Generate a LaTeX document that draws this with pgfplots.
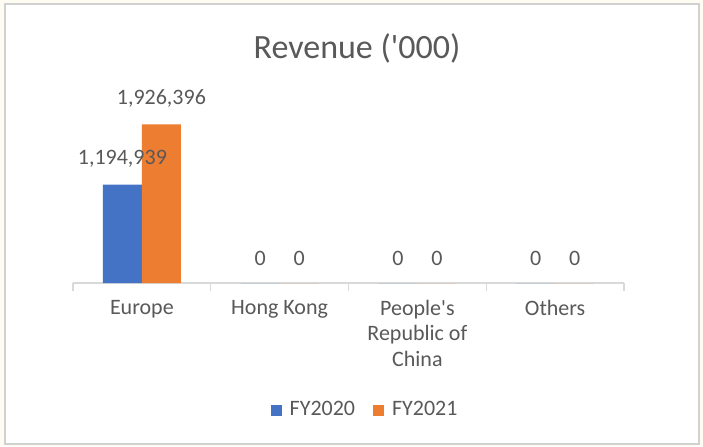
\documentclass[border=0pt]{standalone}
\usepackage{pgfplots}
\pgfplotsset{compat=1.18}
\usepackage{fontspec}
\setmainfont{Carlito}[Ligatures=TeXOff]
\definecolor{xblue}{HTML}{4472C4}
\definecolor{xorange}{HTML}{ED7D31}
\definecolor{xtext}{HTML}{595959}
\definecolor{xline}{HTML}{D9D9D9}
\definecolor{xcream}{RGB}{254,251,242}
\begin{document}
\begin{tikzpicture}
\fill[xcream] (0pt,0pt) rectangle (351.5pt,223pt);
\filldraw[fill=white, draw=black!18, line width=0.6pt] (2.5pt,1pt) rectangle (349.5pt,221pt);
\node[font=\fontsize{17}{20}\selectfont, text=xtext] at (178.5pt,199pt) {Revenue ('000)};
\begin{axis}[
  at={(36.5pt,81.5pt)}, anchor=south west,
  scale only axis, width=275.5pt, height=103pt,
  ybar=0pt, bar width=19.5pt,
  ymin=0, ymax=2500000,
  xmin=-0.5, xmax=3.5,
  hide y axis,
  axis x line*=bottom,
  x axis line style={xline, line width=0.7pt},
  xtick={0,1,2,3},
  xticklabels={Europe, Hong Kong, People's\\Republic of\\China, Others},
  major tick length=0pt,
  minor xtick={-0.5,0.5,1.5,2.5,3.5},
  minor tick length=4pt,
  tick align=outside,
  minor tick style={xline, line width=0.7pt},
  xticklabel style={align=center, font=\fontsize{11}{12.75}\selectfont, text=xtext, yshift=-5pt},
  /pgf/number format/assume math mode=true,
  /pgf/number format/.cd, fixed, 1000 sep={,}, precision=0, /pgfplots/.cd,
  nodes near coords,
  every node near coord/.append style={font=\fontsize{11}{12}\selectfont, text=xtext, yshift=5pt},
  legend columns=2,
  legend style={at={(0.532,-0.617)}, anchor=center, draw=none, fill=none,
    font=\fontsize{11}{12}\selectfont, text=xtext,
    /tikz/every even column/.append style={column sep=7pt}},
  legend image code/.code={\path[#1, draw=none] (0pt,-2.75pt) rectangle (5.5pt,2.75pt); \path (7.5pt,0pt);},
]
\addplot[fill=xblue, draw=none] coordinates {(0,1194939) (1,0) (2,0) (3,0)};
\addplot[fill=xorange, draw=none] coordinates {(0,1926396) (1,0) (2,0) (3,0)};
\legend{FY2020, FY2021}
\end{axis}
\end{tikzpicture}
\end{document}
